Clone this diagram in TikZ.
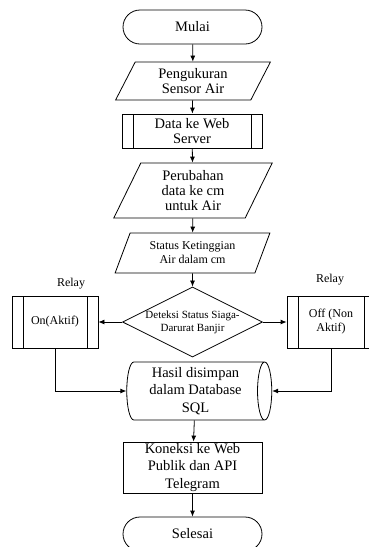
\documentclass[tikz,border=0pt]{standalone}
\usepackage{fontspec}
\setmainfont{Liberation Serif}
\usetikzlibrary{arrows.meta,positioning,shapes.geometric}
\tikzset{
  fcbase/.style ={draw, line width=0.8pt, inner sep=0pt, align=center,
                  font=\fontsize{14.5}{15}\selectfont},
  fcterm/.style ={fcbase, rectangle, rounded corners=17pt,
                  minimum width=139pt, minimum height=34pt},
  fcio/.style   ={fcbase, trapezium, trapezium left angle=65, trapezium right angle=115,
                  trapezium stretches=true},
  fcsub/.style  ={fcbase, rectangle,
                  path picture={\draw[line width=0.8pt]
                    ([xshift=11pt]path picture bounding box.north west) -- ([xshift=11pt]path picture bounding box.south west)
                    ([xshift=-11pt]path picture bounding box.north east) -- ([xshift=-11pt]path picture bounding box.south east);}},
  fcdec/.style  ={fcbase, diamond, aspect=2, minimum width=139pt, minimum height=70pt,
                  font=\fontsize{11}{13}\selectfont},
  fcdb/.style   ={fcbase, cylinder, shape aspect=0.3, minimum width=58pt, minimum height=145pt,
                  font=\fontsize{14.5}{17.5}\selectfont},
  fcproc/.style ={fcbase, rectangle, minimum width=139pt, minimum height=51pt,
                  font=\fontsize{14.5}{17.5}\selectfont},
  fclabel/.style={font=\fontsize{12}{14}\selectfont},
  fcarrow/.style={-{Latex[length=6pt,width=5pt]}, line width=0.8pt},
}

\begin{document}
\begin{tikzpicture}[x=1pt, y=-1pt]
  \useasboundingbox (0,0) rectangle (369,547);
  \node[fcterm] (mulai) at (192.5,27) {Mulai};
  \node[fcio, minimum width=156pt, minimum height=38pt] (ukur) at (193,81) {Pengukuran\\Sensor Air};
  \node[fcsub, minimum width=140pt, minimum height=34pt] (data) at (192,131) {Data ke Web\\Server};
  \node[fcio, trapezium left angle=68, trapezium right angle=112,
        minimum width=160pt, minimum height=55pt] (ubah) at (193,190.5) {Perubahan\\data ke cm\\untuk Air};
  \node[fcio, minimum width=155pt, minimum height=40pt,
        font=\fontsize{12}{14}\selectfont] (status) at (192.5,253) {Status Ketinggian\\Air dalam cm};
  \node[fcdec] (deteksi) at (192.5,322) {Deteksi Status Siaga-\\Darurat Banjir};
  \node[fcsub, minimum width=86pt, minimum height=52pt,
        font=\fontsize{12}{14}\selectfont] (on) at (55,322) {On(Aktif)};
  \node[fcsub, minimum width=88pt, minimum height=52pt,
        font=\fontsize{12}{14}\selectfont] (off) at (331,322) {Off (Non\\Aktif)};
  \node[fclabel] (relayon) at (71,284) {Relay};
  \node[fclabel] (relayoff) at (330,280) {Relay};
  \node[fcdb] (sql) at (195.5,391) {Hasil disimpan\\dalam Database\\SQL};
  \node[fcproc] (koneksi) at (192.5,467.5) {Koneksi ke Web\\Publik dan API\\Telegram};
  \node[fcterm] (selesai) at (192.5,534) {Selesai};
  \foreach \a/\b in {mulai/ukur, ukur/data, data/ubah, ubah/status, status/deteksi,
                     sql/koneksi, koneksi/selesai}
    \draw[fcarrow] (\a) -- (\b);
  \draw[fcarrow] (deteksi) -- (on);
  \draw[fcarrow] (deteksi) -- (off);
  \draw[fcarrow] (on) |- (sql);
  \draw[fcarrow] (off) |- (sql);
\end{tikzpicture}
\end{document}
